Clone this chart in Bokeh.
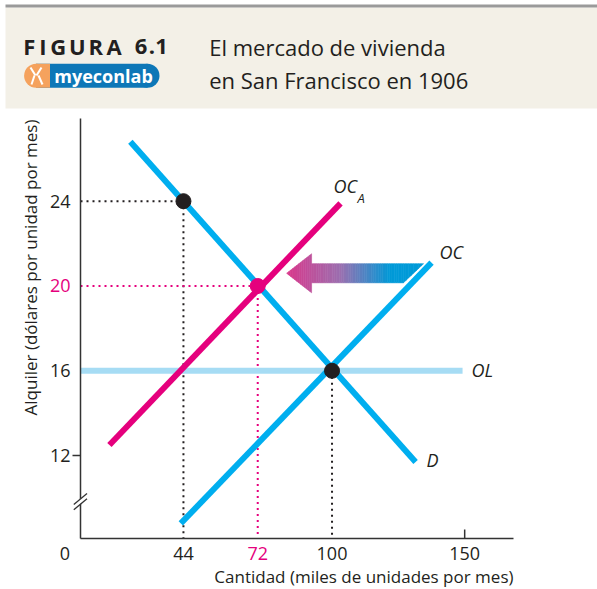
import numpy as np
from bokeh.plotting import figure
from bokeh.models import Range1d, FixedTicker, Label, Arrow, PolyAnnotation
from bokeh.embed import file_html
from bokeh.resources import INLINE
from bokeh.core.properties import value

# ---------------- data ----------------
demand_x = [24.0, 131.5]          # D
demand_y = [26.8, 11.7]
supply_x = [43.0, 137.5]          # OC
supply_y = [8.8, 21.1]
supply_a_x = [16.1, 103.2]        # OC_A
supply_a_y = [12.5, 23.9]
long_run_x = [0.0, 149.2]         # OL
long_run_y = [16.0, 16.0]
black_pts_x = [44, 100]
black_pts_y = [24, 16]
pink_pts_x = [72]
pink_pts_y = [20]
x_tick_values = [44, 100, 150]
y_tick_values = [12, 16, 24]
x_pink_tick = 72
y_pink_tick = 20
# shift arrow (from OC towards OC_A)
shift_tip_x = 82.9
shift_head_x = 92.3
shift_tail_top_x = 134.5
shift_tail_bot_x = 126.9
shift_y = 20.6
shift_body_half = 0.45
shift_head_half = 0.92

title_lines = ["El mercado de vivienda", "en San Francisco en 1906"]
fig_label = "FIGURA 6.1"
x_title = "Cantidad (miles de unidades por mes)"
y_title = "Alquiler (dólares por unidad por mes)"

# axis extents (data)
AX_X0, AX_X1 = 5.2, 168.4
AX_Y0, AX_Y1 = 8.09, 27.9

# ---------------- styles ----------------
BLUE = "#00aeef"
LIGHT_BLUE = "#a6dcf4"
PINK = "#e5007d"
INK = "#231f20"
AXIS = "#333333"
CREAM = "#f3f0e7"
FONT = "Open Sans"

W, H = 597, 589
KX = 433 / (AX_X1 - AX_X0)     # px per x unit
KY = 420 / (AX_Y1 - AX_Y0)     # px per y unit
X_LEFT = AX_X0 - 80 / KX
X_RIGHT = X_LEFT + W / KX
Y_BOTTOM = AX_Y0 - (H - 538) / KY
Y_TOP = Y_BOTTOM + H / KY


def px_to_x(px):   # picture pixel -> data x
    return X_LEFT + px / KX


def py_to_y(py):   # picture pixel -> data y
    return Y_BOTTOM + (H - py) / KY


p = figure(width=W, height=H, x_range=Range1d(X_LEFT, X_RIGHT), y_range=Range1d(Y_BOTTOM, Y_TOP),
           output_backend="svg", toolbar_location=None, min_border=0,
           x_axis_location="below", y_axis_location="left")
p.extra_x_ranges = {"pgx": Range1d(0, W)}
p.extra_y_ranges = {"pgy": Range1d(H, 0)}
p.grid.visible = False
p.outline_line_color = None
p.background_fill_color = "white"
p.border_fill_color = "white"

xa = p.xaxis[0]
ya = p.yaxis[0]
xa.fixed_location = AX_Y0
ya.fixed_location = AX_X0
xa.bounds = (AX_X0, AX_X1)
ya.bounds = (AX_Y0, AX_Y1)
for ax in (xa, ya):
    ax.axis_line_color = AXIS
    ax.axis_line_width = 1.5
    ax.major_tick_line_color = None
    ax.minor_tick_line_color = None
    ax.major_tick_in = 0
    ax.major_tick_out = 0
    ax.major_label_text_font = FONT
    ax.major_label_text_font_size = "18px"
    ax.major_label_text_color = INK
xa.ticker = FixedTicker(ticks=x_tick_values)
ya.ticker = FixedTicker(ticks=y_tick_values)
xa.major_label_standoff = 8
ya.major_label_standoff = 10

# ---------------- header (picture-pixel ranges) ----------------
pg = dict(x_range_name="pgx", y_range_name="pgy")
p.quad(left=[5], right=[W], top=[7], bottom=[108], color=CREAM, line_color=None, **pg)
p.quad(left=[5], right=[W], top=[4], bottom=[7], color="#9a9a9a", line_color=None, **pg)

fig_chars = list(fig_label.replace(" ", ""))
fig_centers = [28.9, 42.5, 57.6, 76.8, 95.3, 113.5, 140.5, 151.5, 161.0]
p.text(x=fig_centers, y=[45.7] * len(fig_chars), text=fig_chars,
       text_font=value(FONT), text_font_style="bold", text_font_size="22px",
       text_color=INK, text_align="center", text_baseline="alphabetic", **pg)
p.text(x=[208.7, 208.7], y=[46.7, 79.3], text=title_lines,
       text_font=value(FONT), text_font_size="22px", text_color=INK,
       text_align="left", text_baseline="alphabetic", **pg)

# myeconlab logo
p.scatter(x=[147.0], y=[75.3], size=24, color="#0d77b7", line_color=None, **pg)
p.quad(left=[35.6], right=[147.0], top=[63.3], bottom=[87.3], color="#0d77b7", line_color=None, **pg)
p.scatter(x=[35.6], y=[75.3], size=24, color="#f5a25d", line_color=None, **pg)
p.quad(left=[35.6], right=[49.5], top=[63.3], bottom=[87.3], color="#f5a25d", line_color=None, **pg)
p.segment(x0=[30, 41, 34, 38], y0=[67, 67, 75, 75], x1=[35, 36, 31, 42], y1=[75, 75, 84, 84],
          line_color="white", line_width=2, **pg)
p.text(x=[103.0], y=[75.8], text=["myeconlab"], text_font=value(FONT), text_font_style="bold",
       text_font_size="18px", text_color="white", text_align="center", text_baseline="middle", **pg)

# ---------------- chart ----------------
# dotted guide lines
p.segment(x0=[AX_X0, black_pts_x[0], black_pts_x[1]], y0=[black_pts_y[0], black_pts_y[0], black_pts_y[1]],
          x1=[black_pts_x[0], black_pts_x[0], black_pts_x[1]], y1=[black_pts_y[0], AX_Y0, AX_Y0],
          line_color=INK, line_width=2, line_dash="2 4")
p.segment(x0=[AX_X0, pink_pts_x[0]], y0=[pink_pts_y[0], pink_pts_y[0]],
          x1=[pink_pts_x[0], pink_pts_x[0]], y1=[pink_pts_y[0], AX_Y0],
          line_color=PINK, line_width=2, line_dash="2 4")

# curves
p.line([max(long_run_x[0], AX_X0), long_run_x[1]], long_run_y, line_color=LIGHT_BLUE, line_width=6)
p.line(supply_x, supply_y, line_color=BLUE, line_width=6)
p.line(demand_x, demand_y, line_color=BLUE, line_width=6)
p.line(supply_a_x, supply_a_y, line_color=PINK, line_width=6)

# gradient arrow (vertical strips)
stops_x = [shift_tip_x, px_to_x(340), px_to_x(390)]
stops_c = [(218, 56, 140), (156, 112, 176), (0, 154, 216)]


def colour_at(x):
    r = np.interp(x, stops_x, [c[0] for c in stops_c])
    g = np.interp(x, stops_x, [c[1] for c in stops_c])
    b = np.interp(x, stops_x, [c[2] for c in stops_c])
    return "#%02x%02x%02x" % (int(r), int(g), int(b))


def top_bot(x, head):
    if head:
        half = shift_head_half * (x - shift_tip_x) / (shift_head_x - shift_tip_x)
        return shift_y + half, shift_y - half
    top = shift_y + shift_body_half
    if x <= shift_tail_bot_x:
        bot = shift_y - shift_body_half
    else:
        bot = shift_y - shift_body_half + (x - shift_tail_bot_x) / (shift_tail_top_x - shift_tail_bot_x) * 2 * shift_body_half
    return top, bot


xs_list, ys_list, cols = [], [], []
for head, a, b, n in [(True, shift_tip_x, shift_head_x, 12), (False, shift_head_x, shift_tail_bot_x, 40),
                      (False, shift_tail_bot_x, shift_tail_top_x, 8)]:
    edges = np.linspace(a, b, n + 1)
    for i in range(n):
        x_a, x_b = edges[i], edges[i + 1]
        ta, ba = top_bot(x_a, head)
        tb, bb = top_bot(x_b, head)
        xs_list.append([x_a, x_b, x_b, x_a])
        ys_list.append([ta, tb, bb, ba])
        cols.append(colour_at((x_a + x_b) / 2))
p.patches(xs_list, ys_list, fill_color=cols, line_color=cols, line_width=0.6)

# points
p.scatter(black_pts_x, black_pts_y, size=15, color=INK)
p.scatter(pink_pts_x, pink_pts_y, size=15, color=PINK)


def curve_label(x, y, t, size="18px"):
    p.add_layout(Label(x=x, y=y, text=t, text_font=FONT, text_font_style="italic",
                       text_font_size=size, text_color=INK, text_baseline="middle", text_align="left"))


curve_label(100.6, 24.7, "OC")
curve_label(109.6, 24.15, "A", "13px")
curve_label(140.5, 21.58, "OC")
curve_label(152.6, 16.04, "OL")
curve_label(135.6, 11.8, "D")

# pink tick labels, zero, axis titles
p.add_layout(Label(x=AX_X0, y=y_pink_tick, x_offset=-10, text=str(y_pink_tick), text_font=FONT,
                   text_font_size="18px", text_color=PINK, text_align="right", text_baseline="middle"))
p.add_layout(Label(x=x_pink_tick, y=AX_Y0, y_offset=-8, text=str(x_pink_tick), text_font=FONT,
                   text_font_size="18px", text_color=PINK, text_align="center", text_baseline="top"))
p.add_layout(Label(x=AX_X0, y=AX_Y0, x_offset=-15.5, y_offset=-8, text="0", text_font=FONT,
                   text_font_size="18px", text_color=INK, text_align="center", text_baseline="top"))
p.add_layout(Label(x=AX_X1, y=AX_Y0, y_offset=-38, text=x_title, text_font=FONT,
                   text_font_size="17px", text_color=INK, text_align="right", text_baseline="middle"))
p.add_layout(Label(x=px_to_x(30), y=py_to_y(267), text=y_title, angle=np.pi / 2, text_font=FONT,
                   text_font_size="17px", text_color=INK, text_align="center", text_baseline="middle"))

# tick marks at 12 (outward) and 150 (inward)
p.add_layout(Arrow(end=None, x_start=AX_X0, y_start=12, x_end=px_to_x(72), y_end=12,
                   line_color=AXIS, line_width=1.5))
p.add_layout(Arrow(end=None, x_start=150, y_start=AX_Y0, x_end=150, y_end=py_to_y(529),
                   line_color=AXIS, line_width=1.5))

# axis break
p.add_layout(PolyAnnotation(xs=[px_to_x(76), px_to_x(84), px_to_x(84), px_to_x(76)],
                            ys=[py_to_y(501.5), py_to_y(494.8), py_to_y(500.0), py_to_y(506.6)],
                            fill_color="white", fill_alpha=1, line_color=None))
p.add_layout(Arrow(end=None, x_start=px_to_x(73.3), y_start=py_to_y(504), x_end=px_to_x(86.5),
                   y_end=py_to_y(492.9), line_color=AXIS, line_width=1.3))
p.add_layout(Arrow(end=None, x_start=px_to_x(73.3), y_start=py_to_y(509.3), x_end=px_to_x(86.5),
                   y_end=py_to_y(498.2), line_color=AXIS, line_width=1.3))

open("out.html", "w").write(file_html(p, INLINE))
